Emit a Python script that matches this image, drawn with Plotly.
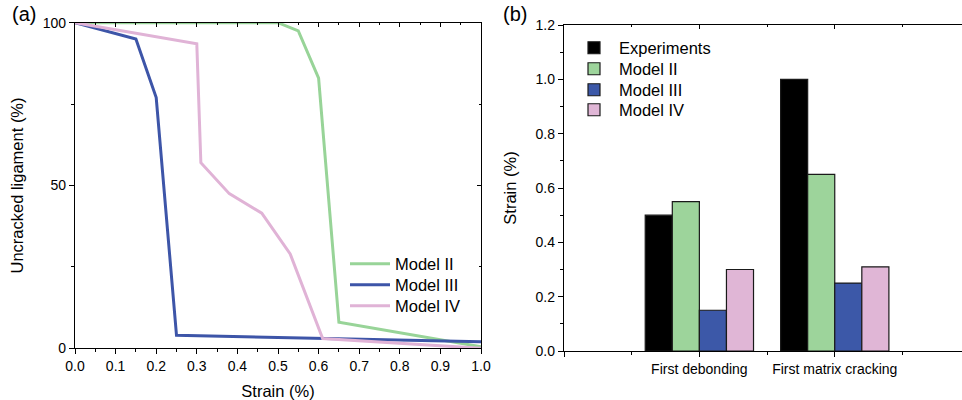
import plotly.graph_objects as go

# ---- Panel (a) data ----
m2_x = [0.0, 0.5, 0.55, 0.6, 0.65, 0.9, 1.0]
m2_y = [100, 100, 97.5, 83, 8, 2.5, 0.5]
m3_x = [0.0, 0.15, 0.2, 0.25, 1.0]
m3_y = [100, 95, 77, 4, 2]
m4_x = [0.0, 0.3, 0.31, 0.38, 0.46, 0.53, 0.61, 1.0]
m4_y = [100, 93.5, 57, 47.5, 41.5, 29, 3, 0]

# ---- Panel (b) data ----
categories = ["First debonding", "First matrix cracking"]
experiments = [0.5, 1.0]
model2 = [0.55, 0.65]
model3 = [0.15, 0.25]
model4 = [0.30, 0.31]

GREEN_L = "#98d498"
BLUE_L = "#3d55a8"
PINK_L = "#e0b3d6"
GREEN_B = "#9dd49b"
BLUE_B = "#3c58a8"
PINK_B = "#e0b6d6"

FONT = "Arial, Liberation Sans, sans-serif"
W, H = 962, 400

fig = go.Figure()

line_legends = ["legend", "legend3", "legend4"]
line_rows = [264, 285, 306]
for (xs, ys, name, col), lg in zip([(m2_x, m2_y, "Model II", GREEN_L),
                                    (m3_x, m3_y, "Model III", BLUE_L),
                                    (m4_x, m4_y, "Model IV", PINK_L)], line_legends):
    fig.add_trace(go.Scatter(x=xs, y=ys, mode="lines", name=name,
                             line=dict(color=col, width=3),
                             xaxis="x", yaxis="y", legend=lg))

xpos = [i + 1 for i in range(len(categories))]
bar_legends = ["legend2", "legend5", "legend6", "legend7"]
bar_rows = [48, 69, 90, 110]
for (vals, name, col), lg in zip([(experiments, "Experiments", "black"),
                                  (model2, "Model II", GREEN_B),
                                  (model3, "Model III", BLUE_B),
                                  (model4, "Model IV", PINK_B)], bar_legends):
    fig.add_trace(go.Bar(x=xpos, y=vals, name=name,
                         marker=dict(color=col, line=dict(color="#1a1a1a", width=1.2)),
                         xaxis="x2", yaxis="y2", legend=lg))

# dummy traces to activate mirror-tick overlay axes
fig.add_trace(go.Scatter(x=[None], y=[None], xaxis="x3", yaxis="y3",
                         showlegend=False, hoverinfo="skip"))
fig.add_trace(go.Scatter(x=[None], y=[None], xaxis="x4", yaxis="y4",
                         showlegend=False, hoverinfo="skip"))

TICKF = dict(size=14, color="black", family=FONT)
ax_common = dict(showline=True, linecolor="black", linewidth=1.3,
                 showgrid=False, zeroline=False, ticks="outside",
                 tickcolor="black", ticklen=5, tickwidth=1, automargin=False,
                 tickfont=TICKF)

ldom_x = [75 / W, 481 / W]
ldom_y = [1 - 348.3 / H, 1 - 22.7 / H]
rdom_x = [564 / W, 1.0]
rdom_y = [1 - 351 / H, 1 - 25 / H]

legend_style = dict(xanchor="left", yanchor="middle", bgcolor="rgba(0,0,0,0)",
                    font=dict(size=16.5, family=FONT), itemwidth=40)
legends = {}
for lg, row in zip(line_legends, line_rows):
    legends[lg] = dict(x=345 / W, y=1 - row / H, **legend_style)
for lg, row in zip(bar_legends, bar_rows):
    legends[lg] = dict(x=569 / W, y=1 - row / H, **legend_style)

fig.update_layout(
    width=W, height=H,
    margin=dict(l=0, r=0, t=0, b=0, autoexpand=False),
    paper_bgcolor="white", plot_bgcolor="white",
    font=dict(family=FONT, color="black"),
    barmode="group", bargap=0.2, bargroupgap=0,
    xaxis=dict(**ax_common, domain=ldom_x, range=[0, 1], dtick=0.1,
               tickformat=".1f", anchor="y", mirror=True,
               minor=dict(dtick=0.05, ticks="outside", ticklen=3, tickcolor="black"),
               title=dict(text="Strain (%)", font=dict(size=16.5), standoff=12)),
    yaxis=dict(**ax_common, domain=ldom_y, range=[0, 100], dtick=50,
               anchor="x", mirror=True,
               minor=dict(dtick=25, ticks="outside", ticklen=3, tickcolor="black"),
               title=dict(text="Uncracked ligament (%)", font=dict(size=16.5), standoff=14)),
    xaxis3=dict(overlaying="x", anchor="y", side="top", range=[0, 1], dtick=0.1,
                showticklabels=False, showgrid=False, zeroline=False, showline=False,
                ticks="inside", ticklen=4, tickcolor="black",
                minor=dict(dtick=0.05, ticks="inside", ticklen=2, tickcolor="black")),
    yaxis3=dict(overlaying="y", anchor="x", side="right", range=[0, 100], dtick=50,
                showticklabels=False, showgrid=False, zeroline=False, showline=False,
                ticks="inside", ticklen=4, tickcolor="black",
                minor=dict(dtick=25, ticks="inside", ticklen=2, tickcolor="black")),
    xaxis2=dict(**ax_common, domain=rdom_x, range=[0, 2.94], anchor="y2",
                tickvals=[0] + xpos, ticktext=[""] + categories,
                minor=dict(tickvals=[0.5, 1.5, 2.5], ticks="outside", ticklen=3, tickcolor="black")),
    yaxis2=dict(**ax_common, domain=rdom_y, range=[0, 1.2], dtick=0.2,
                tickformat=".1f", anchor="x2",
                minor=dict(dtick=0.1, ticks="outside", ticklen=3, tickcolor="black"),
                title=dict(text="Strain (%)", font=dict(size=16.5), standoff=14)),
    xaxis4=dict(overlaying="x2", anchor="y2", side="top", range=[0, 2.94],
                tickvals=[0, 1, 2], showticklabels=False, showgrid=False, zeroline=False,
                showline=True, linecolor="black", linewidth=1.3,
                ticks="inside", ticklen=4, tickcolor="black",
                minor=dict(tickvals=[0.5, 1.5, 2.5], ticks="inside", ticklen=2, tickcolor="black")),
    yaxis4=dict(overlaying="y2", anchor="x2", side="right", range=[0, 1.2],
                showticklabels=False, showgrid=False, zeroline=False, showline=False,
                ticks=""),
    annotations=[
        dict(text="(a)", x=10 / W, y=1 - 14 / H, xref="paper", yref="paper",
             xanchor="left", yanchor="middle", showarrow=False, font=dict(size=20)),
        dict(text="(b)", x=501 / W, y=1 - 14 / H, xref="paper", yref="paper",
             xanchor="left", yanchor="middle", showarrow=False, font=dict(size=20)),
    ],
    **legends,
)

fig.write_html("out.html", config={"displayModeBar": False},
               post_script="document.body.style.margin='0';document.body.style.padding='0';")
